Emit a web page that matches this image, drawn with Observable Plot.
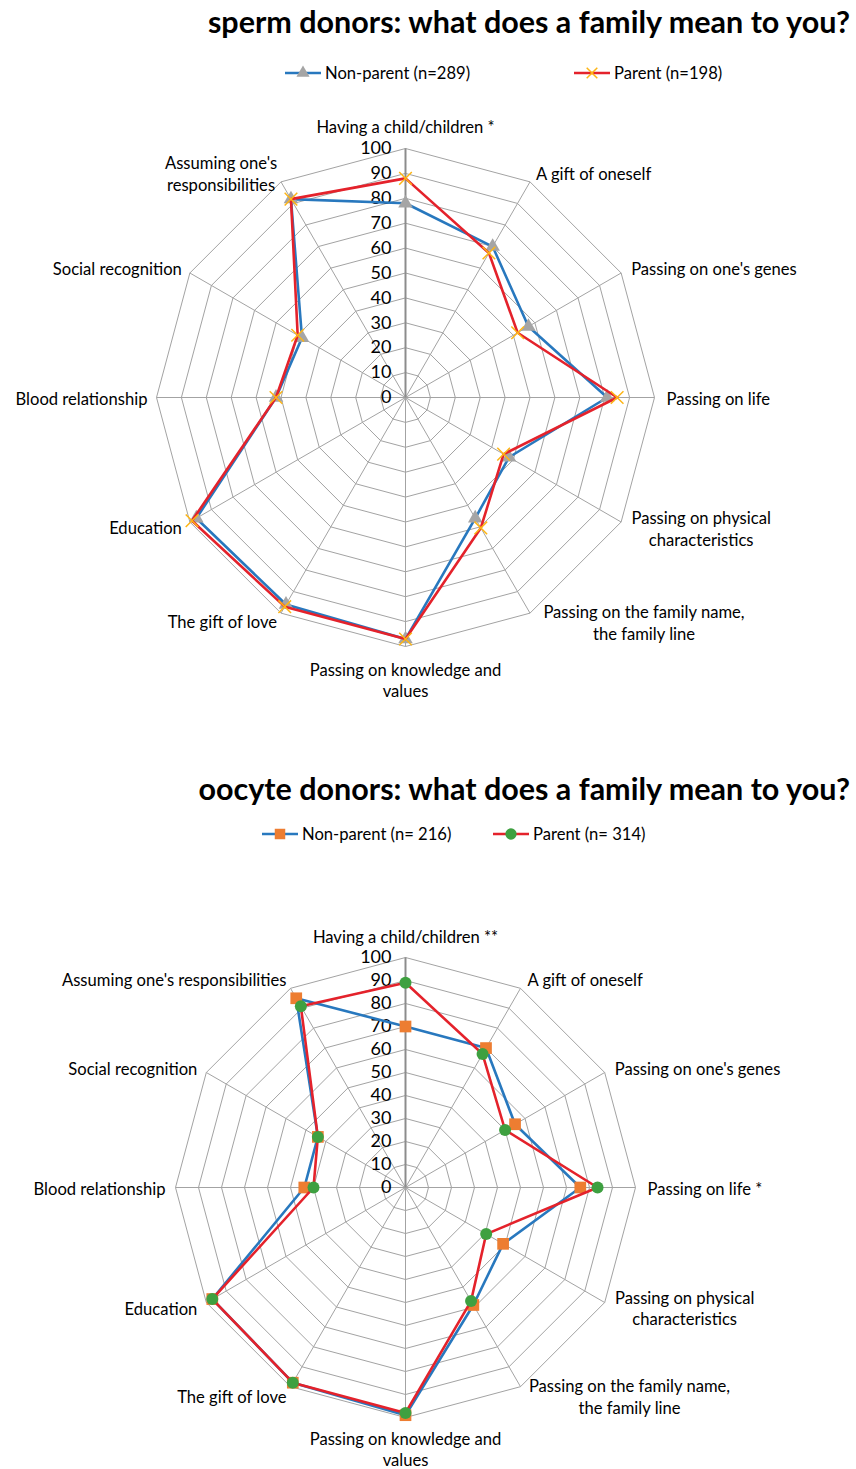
<!DOCTYPE html>
<html><head><meta charset="utf-8">
<script src="https://cdn.jsdelivr.net/npm/d3@7"></script>
<script src="https://cdn.jsdelivr.net/npm/@observablehq/plot@0.6"></script>
<style>
body{margin:0;background:#fff;font-family:Lato,"Open Sans",sans-serif;}
#wrap{position:relative;width:856px;height:1469px;overflow:hidden;background:#fff;}
.title{position:absolute;right:6px;font-weight:bold;font-size:30.5px;color:#000;white-space:nowrap;line-height:1;transform:translateY(-50%);}
.leg{position:absolute;display:flex;align-items:center;font-size:16.6px;color:#000;white-space:nowrap;transform:translateY(-50%);}
.leg svg{margin-right:4px;}
.plot{position:absolute;left:0;}
</style></head><body><div id="wrap"></div>
<script>
// ---------- data ----------
const spermLabels = ["Having a child/children *","A gift of oneself","Passing on one's genes","Passing on life","Passing on physical\ncharacteristics","Passing on the family name,\nthe family line","Passing on knowledge and\nvalues","The gift of love","Education","Blood relationship","Social recognition","Assuming one's\nresponsibilities"];
const spermNonParent = [78, 70, 57, 81, 48, 56, 97, 96, 97, 52, 48, 92];
const spermParent    = [88, 67, 52, 85, 45.5, 60.5, 97, 97, 99, 52, 50, 92];
const spermSeries = ["Non-parent (n=289)", "Parent (n=198)"];

const oocyteLabels = ["Having a child/children **","A gift of oneself","Passing on one's genes","Passing on life *","Passing on physical\ncharacteristics","Passing on the family name,\nthe family line","Passing on knowledge and\nvalues","The gift of love","Education","Blood relationship","Social recognition","Assuming one's responsibilities"];
const oocyteNonParent = [70, 70, 55, 76, 49, 59, 99, 98, 97, 44, 44, 95];
const oocyteParent    = [89, 67, 50, 83.5, 40.5, 57, 98, 98, 97, 40, 44, 91];
const oocyteSeries = ["Non-parent (n= 216)", "Parent (n= 314)"];

const valueTicks = [0,10,20,30,40,50,60,70,80,90,100];

// ---------- style ----------
const BLUE = "#2878BE", RED = "#E4222B";
const GRID = "#A3A3A3";
const FS = 16.6;
const spermLayout = [
  {a:"middle",dx:0,dy:-23},{a:"start",dx:6,dy:-9},{a:"start",dx:10,dy:-5},{a:"start",dx:12,dy:0},
  {a:"middle",dx:80,dy:6},{a:"middle",dx:114,dy:9},{a:"middle",dx:0,dy:33},{a:"end",dx:-4,dy:8},
  {a:"end",dx:-8,dy:5},{a:"end",dx:-9,dy:0},{a:"end",dx:-8,dy:-5},{a:"middle",dx:-60,dy:-9}
];
const oocyteLayout = [
  {a:"middle",dx:0,dy:-22},{a:"start",dx:7,dy:-9},{a:"start",dx:10,dy:-5},{a:"start",dx:12,dy:0},
  {a:"middle",dx:80,dy:5},{a:"middle",dx:109,dy:9},{a:"middle",dx:0,dy:31},{a:"end",dx:-4,dy:9},
  {a:"end",dx:-9,dy:5},{a:"end",dx:-10,dy:0},{a:"end",dx:-9,dy:-5},{a:"end",dx:-4,dy:-9}
];

function polar(i, v){ const a = i*Math.PI/6; return {x: v*Math.sin(a), y: v*Math.cos(a)}; }
function ring(vals, name){ const out = vals.map((v,i)=>({...polar(i,v), s:name, v}));
  out.push({...out[0]}); return out; }

function radar(cfg){
  const n = cfg.labels.length;
  const grid = [];
  for (let lv = 10; lv <= 100; lv += 10) for (let i = 0; i <= n; i++) grid.push({lv, ...polar(i % n, lv)});
  const spokes = d3.range(n).map(i => ({i, ...polar(i, 100)}));
  const A = ring(cfg.a, "a"), B = ring(cfg.b, "b");
  const marks = [
    Plot.line(grid, {x:"x", y:"y", z:"lv", stroke: GRID, strokeWidth: 1}),
    Plot.link(spokes.filter(d=>d.i!==0), {x1:0, y1:0, x2:"x", y2:"y", stroke: GRID, strokeWidth: 1}),
    Plot.link(spokes.filter(d=>d.i===0), {x1:0, y1:0, x2:"x", y2:"y", stroke: "#8C8C8C", strokeWidth: 2}),
    Plot.text(valueTicks, {x: 0, y: d=>d, text: d=>String(d), textAnchor:"end", dx:-14, fontSize: 18, fill:"#000"}),
    Plot.line(A, {x:"x", y:"y", stroke: BLUE, strokeWidth: 2.6}),
    Plot.dot(A.slice(0,n), {x:"x", y:"y", symbol: cfg.symA, r: cfg.rA, fill: cfg.fillA, stroke: cfg.strokeA, strokeWidth: cfg.swA}),
    Plot.line(B, {x:"x", y:"y", stroke: RED, strokeWidth: 2.6}),
    Plot.dot(B.slice(0,n), {x:"x", y:"y", symbol: cfg.symB, r: cfg.rB, fill: cfg.fillB, stroke: cfg.strokeB, strokeWidth: cfg.swB}),
  ];
  cfg.labels.forEach((t,i) => {
    const L = cfg.layout[i];
    marks.push(Plot.text([{t, ...polar(i,100)}], {x:"x", y:"y", text:"t", textAnchor: L.a, dx: L.dx, dy: L.dy,
      lineAnchor:"middle", lineHeight: 1.32, fontSize: FS, fill:"#000"}));
  });
  const R = cfg.R;
  const svg = Plot.plot({
    width: 856, height: cfg.height,
    margin: 0,
    x: {domain:[-100,100], range:[cfg.cx - R, cfg.cx + R], axis: null},
    y: {domain:[-100,100], range:[cfg.cy + R, cfg.cy - R], axis: null},
    style: {fontFamily: "Lato, 'Open Sans', sans-serif", background: "transparent", overflow: "visible"},
    marks
  });
  svg.classList.add("plot");
  svg.style.top = cfg.top + "px";
  return svg;
}

function legendItem(label, sym, size, fill, stroke, sw, color, left, top){
  const div = document.createElement("div");
  div.className = "leg"; div.style.left = left + "px"; div.style.top = top + "px";
  const s = d3.create("svg").attr("width", 36).attr("height", 16);
  s.append("line").attr("x1",0).attr("x2",36).attr("y1",8).attr("y2",8).attr("stroke",color).attr("stroke-width",2.6);
  s.append("path").attr("transform","translate(18,8)").attr("d", d3.symbol(sym, size)())
    .attr("fill", fill).attr("stroke", stroke).attr("stroke-width", sw);
  div.appendChild(s.node());
  const sp = document.createElement("span"); sp.textContent = label; div.appendChild(sp);
  return div;
}
function title(text, top){ const d = document.createElement("div"); d.className="title"; d.textContent=text; d.style.top = top+"px"; return d; }

const wrap = document.getElementById("wrap");
wrap.appendChild(title("sperm donors: what does a family mean to you?", 21));
wrap.appendChild(legendItem(spermSeries[0], d3.symbolTriangle, 75, "#A5A5A5", "none", 0, BLUE, 285, 73));
wrap.appendChild(legendItem(spermSeries[1], d3.symbolTimes, 75, "none", "#FDB515", 1.5, RED, 574, 73));
wrap.appendChild(radar({labels: spermLabels, a: spermNonParent, b: spermParent, layout: spermLayout,
  R: 249, cx: 405, cy: 297, height: 620, top: 100,
  symA:"triangle", rA: 5.4, fillA:"#A5A5A5", strokeA:"none", swA:0,
  symB:"times", rB: 5.8, fillB:"none", strokeB:"#FDB515", swB:1.5}));

wrap.appendChild(title("oocyte donors: what does a family mean to you?", 788));
wrap.appendChild(legendItem(oocyteSeries[0], d3.symbolSquare, 110, "#ED7D31", "none", 0, BLUE, 262, 834));
wrap.appendChild(legendItem(oocyteSeries[1], d3.symbolCircle, 100, "#3EA040", "none", 0, RED, 493, 834));
wrap.appendChild(radar({labels: oocyteLabels, a: oocyteNonParent, b: oocyteParent, layout: oocyteLayout,
  R: 230, cx: 405, cy: 277, height: 559, top: 910,
  symA:"square", rA: 6.6, fillA:"#ED7D31", strokeA:"none", swA:0,
  symB:"circle", rB: 6, fillB:"#3EA040", strokeB:"none", swB:0}));
</script></body></html>
